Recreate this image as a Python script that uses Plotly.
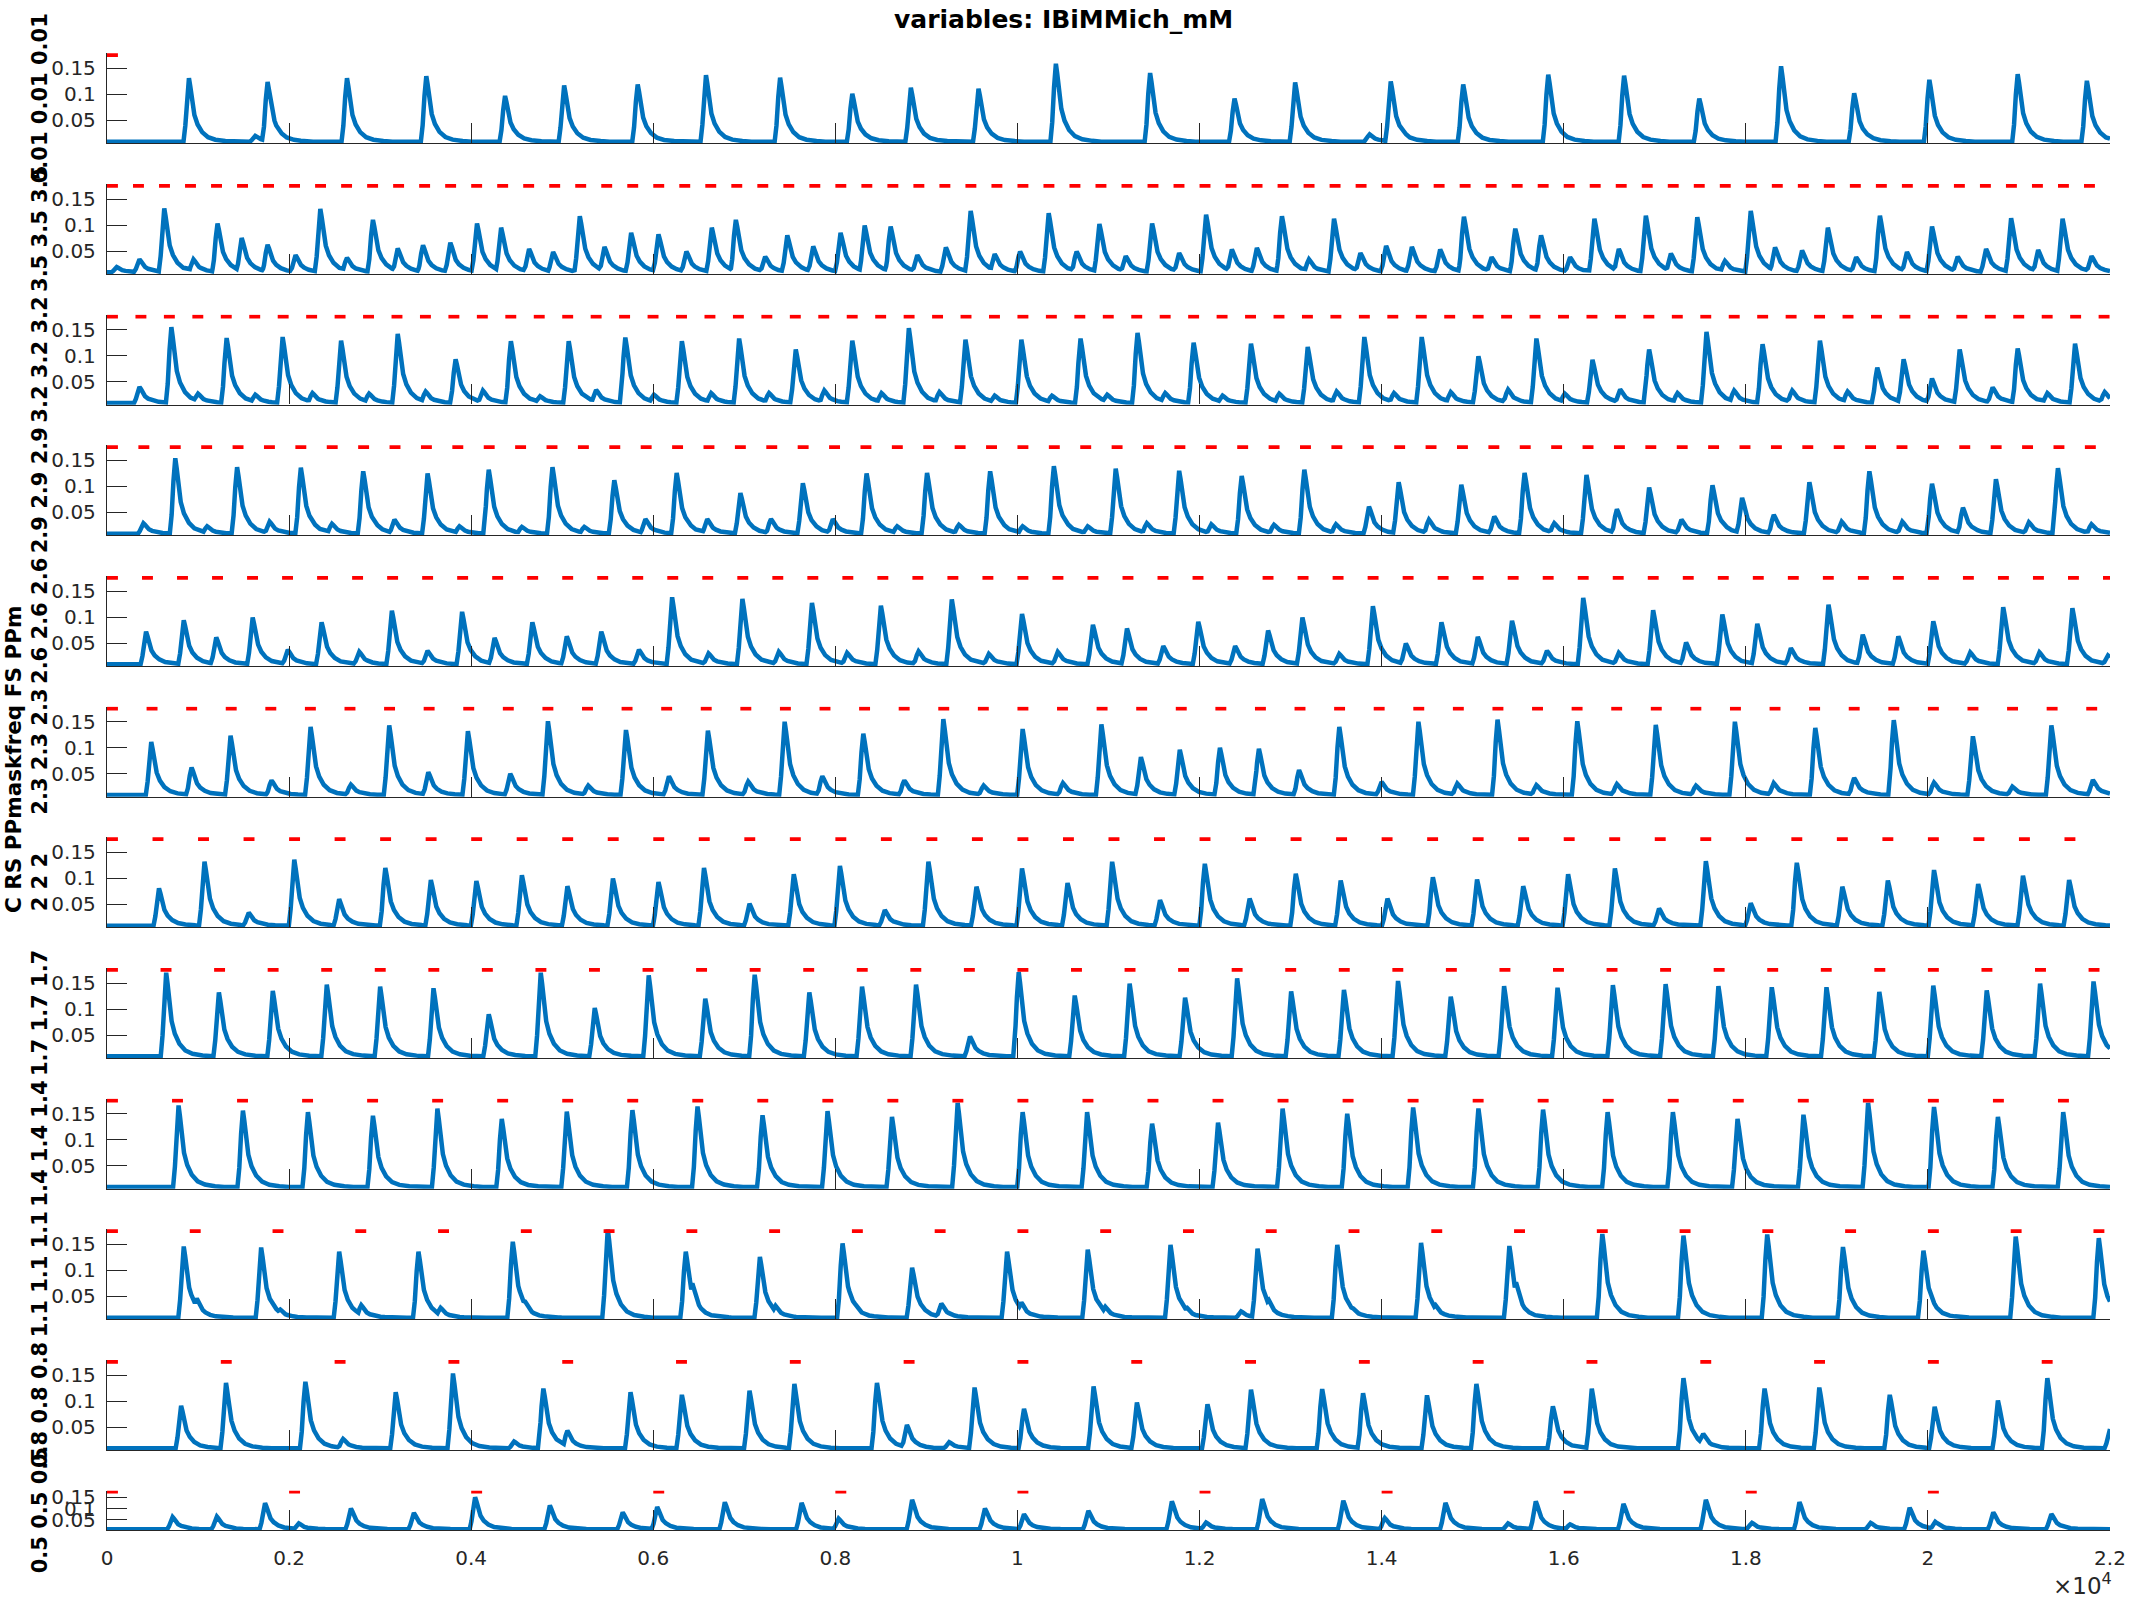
import numpy as np
import plotly.graph_objects as go

# ---------------- data ----------------
time_ticks = [0, 2000, 4000, 6000, 8000, 10000, 12000, 14000, 16000, 18000, 20000, 22000]
time_tick_labels = ["0", "0.2", "0.4", "0.6", "0.8", "1", "1.2", "1.4", "1.6", "1.8", "2", "2.2"]
y_ticks = [0.05, 0.1, 0.15]
y_tick_labels = ["0.05", "0.1", "0.15"]

mask_freqs = [0.01, 3.5, 3.2, 2.9, 2.6, 2.3, 2.0, 1.7, 1.4, 1.1, 0.8, 0.5]
panel_labels = ["0.01 0.01 0.01", "3.5 3.5 3.5", "3.2 3.2 3.2", "2.9 2.9 2.9",
                "2.6 2.6 2.6", "2.3 2.3 2.3", "2 2 2", "1.7 1.7 1.7",
                "1.4 1.4 1.4", "1.1 1.1 1.1", "0.8 0.8 0.8", "0.5 0.5 0.5"]
baseline_level = 0.009
mask_level = 0.1756

# peak times (ms) and peak values (mM) of the blue trace, one pair per panel
p1_t = [900, 1629, 1764, 2636, 3507, 4372, 5021, 5829, 6579, 7393, 8186, 8829, 9572, 10422,
        11457, 12384, 13050, 13868, 14100, 14896, 15830, 16663, 17489, 18387, 19190, 20016, 20986, 21746]
p1_h = [0.131, 0.02, 0.124, 0.131, 0.135, 0.097, 0.117, 0.119, 0.137, 0.132, 0.101, 0.113, 0.111, 0.159,
        0.141, 0.092, 0.123, 0.023, 0.125, 0.119, 0.138, 0.136, 0.092, 0.154, 0.102, 0.128, 0.139, 0.126]

p2_t = [107, 357, 629, 950, 1214, 1479, 1764, 2071, 2343, 2636,
        2921, 3193, 3471, 3771, 4064, 4329, 4636, 4900, 5193, 5464,
        5757, 6057, 6364, 6643, 6907, 7229, 7472, 7757, 8057, 8322,
        8607, 8900, 9214, 9486, 9750, 10029, 10343, 10650, 10900, 11189,
        11479, 11776, 12072, 12355, 12630, 12905, 13202, 13477, 13767, 14049,
        14332, 14643, 14904, 15208, 15468, 15751, 16070, 16337, 16605, 16902,
        17177, 17467, 17771, 18054, 18321, 18618, 18901, 19212, 19473, 19770,
        20045, 20327, 20639, 20914, 21211, 21479, 21797]
p2_h = [0.019, 0.034, 0.132, 0.034, 0.103, 0.075, 0.062, 0.042, 0.131, 0.037,
        0.110, 0.055, 0.061, 0.066, 0.103, 0.095, 0.054, 0.048, 0.117, 0.058,
        0.085, 0.082, 0.049, 0.095, 0.110, 0.039, 0.080, 0.059, 0.085, 0.099,
        0.097, 0.042, 0.057, 0.127, 0.044, 0.049, 0.123, 0.049, 0.102, 0.040,
        0.103, 0.046, 0.120, 0.053, 0.056, 0.117, 0.034, 0.112, 0.046, 0.060,
        0.058, 0.053, 0.116, 0.038, 0.093, 0.080, 0.038, 0.112, 0.054, 0.118,
        0.045, 0.115, 0.031, 0.127, 0.057, 0.051, 0.095, 0.038, 0.118, 0.048,
        0.097, 0.039, 0.054, 0.113, 0.052, 0.112, 0.040]

p3_t = [357, 707, 1000, 1314, 1629, 1929, 2257, 2571, 2879, 3193,
        3500, 3829, 4129, 4436, 4757, 5071, 5372, 5693, 6007, 6314,
        6636, 6943, 7272, 7565, 7879, 8186, 8507, 8807, 9143, 9429,
        9750, 10043, 10379, 10693, 10986, 11319, 11623, 11935, 12253, 12565,
        12876, 13188, 13506, 13810, 14136, 14440, 14759, 15063, 15389, 15700,
        16012, 16316, 16620, 16938, 17250, 17568, 17872, 18184, 18510, 18814,
        19118, 19444, 19733, 20045, 20349, 20711, 20986, 21312, 21616, 21942]
p3_h = [0.040, 0.155, 0.027, 0.134, 0.025, 0.136, 0.028, 0.129, 0.027, 0.142,
        0.031, 0.093, 0.033, 0.128, 0.022, 0.128, 0.034, 0.135, 0.025, 0.128,
        0.028, 0.133, 0.028, 0.112, 0.033, 0.129, 0.028, 0.153, 0.030, 0.131,
        0.023, 0.131, 0.023, 0.133, 0.025, 0.144, 0.028, 0.125, 0.023, 0.123,
        0.027, 0.117, 0.031, 0.136, 0.028, 0.136, 0.030, 0.099, 0.035, 0.133,
        0.027, 0.092, 0.035, 0.112, 0.028, 0.146, 0.033, 0.122, 0.033, 0.129,
        0.031, 0.077, 0.093, 0.056, 0.112, 0.039, 0.114, 0.028, 0.123, 0.030]

p4_t = [400, 750, 1100, 1429, 1786, 2129, 2471, 2814, 3157, 3521,
        3871, 4193, 4557, 4893, 5243, 5572, 5914, 6257, 6593, 6957,
        7293, 7643, 7972, 8343, 8679, 9007, 9357, 9700, 10057, 10400,
        10772, 11079, 11421, 11776, 12130, 12463, 12818, 13151, 13499, 13861,
        14187, 14520, 14875, 15237, 15570, 15896, 16250, 16584, 16938, 17293,
        17634, 17959, 18307, 18698, 19053, 19357, 19719, 20045, 20385, 20747,
        21109, 21428, 21797]
p4_h = [0.029, 0.154, 0.023, 0.137, 0.032, 0.136, 0.028, 0.129, 0.036, 0.125,
        0.023, 0.132, 0.022, 0.137, 0.022, 0.112, 0.037, 0.126, 0.037, 0.087,
        0.037, 0.106, 0.037, 0.125, 0.023, 0.126, 0.026, 0.129, 0.023, 0.139,
        0.023, 0.134, 0.029, 0.130, 0.027, 0.120, 0.026, 0.132, 0.027, 0.061,
        0.108, 0.036, 0.103, 0.042, 0.126, 0.029, 0.122, 0.056, 0.098, 0.036,
        0.102, 0.078, 0.045, 0.108, 0.032, 0.129, 0.032, 0.105, 0.059, 0.114,
        0.031, 0.135, 0.027]

p5_t = [429, 843, 1200, 1600, 1986, 2357, 2771, 3129, 3521, 3900,
        4257, 4672, 5050, 5429, 5843, 6207, 6607, 6979, 7379, 7743,
        8129, 8500, 8914, 9279, 9686, 10050, 10443, 10829, 11203, 11602,
        11986, 12391, 12753, 13130, 13535, 13904, 14266, 14657, 15056, 15432,
        15816, 16214, 16605, 16982, 17344, 17742, 18126, 18495, 18908, 19284,
        19675, 20059, 20465, 20827, 21225, 21587, 21978]
p5_h = [0.072, 0.094, 0.061, 0.099, 0.037, 0.090, 0.033, 0.112, 0.035, 0.110,
        0.060, 0.090, 0.063, 0.072, 0.037, 0.138, 0.030, 0.135, 0.033, 0.127,
        0.031, 0.122, 0.034, 0.134, 0.029, 0.106, 0.033, 0.085, 0.078, 0.044,
        0.091, 0.044, 0.074, 0.099, 0.029, 0.121, 0.049, 0.090, 0.062, 0.093,
        0.035, 0.137, 0.031, 0.113, 0.051, 0.105, 0.087, 0.040, 0.124, 0.066,
        0.063, 0.092, 0.032, 0.119, 0.032, 0.117, 0.026]

p6_t = [486, 929, 1357, 1807, 2236, 2679, 3100, 3529, 3964, 4429,
        4843, 5286, 5700, 6172, 6600, 7043, 7443, 7857, 8307, 8757,
        9186, 9629, 10057, 10500, 10922, 11356, 11783, 12224, 12652, 13093,
        13535, 13999, 14404, 14831, 15273, 15700, 16149, 16584, 17011, 17453,
        17880, 18307, 18763, 19190, 19625, 20067, 20494, 20928, 21356, 21812]
p6_h = [0.111, 0.062, 0.123, 0.037, 0.140, 0.029, 0.143, 0.053, 0.132, 0.050,
        0.151, 0.027, 0.134, 0.045, 0.133, 0.035, 0.150, 0.045, 0.127, 0.037,
        0.155, 0.027, 0.136, 0.032, 0.145, 0.082, 0.096, 0.100, 0.098, 0.057,
        0.140, 0.034, 0.150, 0.031, 0.154, 0.028, 0.151, 0.030, 0.144, 0.027,
        0.150, 0.032, 0.138, 0.042, 0.153, 0.033, 0.122, 0.025, 0.143, 0.038]

p7_t = [571, 1071, 1557, 2057, 2550, 3057, 3557, 4057, 4557, 5057,
        5557, 6057, 6557, 7057, 7543, 8050, 8543, 9022, 9550, 10050,
        10550, 11040, 11566, 12058, 12550, 13057, 13550, 14064, 14563, 15048,
        15555, 16048, 16562, 17047, 17561, 18054, 18560, 19060, 19560, 20067,
        20552, 21044, 21551]
p7_h = [0.081, 0.132, 0.034, 0.136, 0.060, 0.120, 0.097, 0.095, 0.106, 0.085,
        0.100, 0.093, 0.120, 0.051, 0.108, 0.124, 0.039, 0.132, 0.084, 0.119,
        0.091, 0.132, 0.058, 0.128, 0.061, 0.109, 0.096, 0.061, 0.102, 0.098,
        0.085, 0.108, 0.119, 0.042, 0.133, 0.052, 0.130, 0.084, 0.096, 0.116,
        0.089, 0.105, 0.097]

p8_t = [650, 1229, 1821, 2414, 3000, 3586, 4193, 4764, 5357, 5950,
        6571, 7114, 7714, 8293, 8886, 9479, 10014, 10629, 11232, 11841,
        12413, 13006, 13586, 14180, 14759, 15345, 15932, 16540, 17119, 17699,
        18285, 18886, 19466, 20059, 20646, 21232, 21819]
p8_h = [0.170, 0.132, 0.135, 0.147, 0.143, 0.140, 0.090, 0.170, 0.102, 0.165,
        0.120, 0.166, 0.132, 0.143, 0.147, 0.047, 0.171, 0.126, 0.149, 0.122,
        0.159, 0.134, 0.137, 0.154, 0.124, 0.144, 0.141, 0.146, 0.148, 0.144,
        0.142, 0.142, 0.133, 0.145, 0.136, 0.149, 0.153]

p9_t = [786, 1493, 2207, 2921, 3629, 4336, 5050, 5771, 6486, 7200,
        7914, 8622, 9343, 10057, 10765, 11479, 12203, 12912, 13622, 14346,
        15063, 15773, 16482, 17199, 17909, 18633, 19343, 20067, 20769, 21486]
p9_h = [0.166, 0.156, 0.153, 0.146, 0.160, 0.140, 0.154, 0.157, 0.164, 0.147,
        0.155, 0.144, 0.171, 0.153, 0.153, 0.131, 0.133, 0.160, 0.150, 0.162,
        0.160, 0.158, 0.153, 0.153, 0.140, 0.148, 0.171, 0.163, 0.144, 0.153]

p10_t = [843, 986, 1693, 1900, 2550, 2793, 3421, 3664, 4457, 4593,
         5500, 6357, 6429, 7171, 7343, 8079, 8214, 8843, 9164, 9886,
         10043, 10772, 10965, 11681, 11862, 12456, 12637, 12760, 13513, 13687,
         14433, 14592, 15403, 15476, 16424, 17315, 18235, 19067, 19951, 20009,
         20964, 21877]
p10_h = [0.146, 0.046, 0.144, 0.025, 0.136, 0.033, 0.136, 0.028, 0.155, 0.040,
         0.180, 0.136, 0.075, 0.126, 0.032, 0.152, 0.036, 0.105, 0.036, 0.136,
         0.038, 0.140, 0.030, 0.149, 0.028, 0.021, 0.142, 0.043, 0.149, 0.027,
         0.153, 0.033, 0.147, 0.077, 0.170, 0.167, 0.169, 0.145, 0.138, 0.066,
         0.165, 0.162]

p11_t = [814, 1307, 2179, 2593, 3171, 3800, 4471, 4793, 5057, 5750,
         6314, 7057, 7550, 8457, 8786, 9250, 9529, 10072, 10836, 11312,
         12087, 12565, 13347, 13796, 14498, 15041, 15881, 16308, 17315, 17532,
         18206, 18807, 19581, 20074, 20769, 21312, 22000]
p11_h = [0.091, 0.135, 0.137, 0.027, 0.117, 0.153, 0.022, 0.124, 0.043, 0.117,
         0.112, 0.120, 0.133, 0.135, 0.054, 0.021, 0.126, 0.085, 0.128, 0.097,
         0.094, 0.122, 0.123, 0.115, 0.111, 0.133, 0.090, 0.124, 0.144, 0.037,
         0.124, 0.126, 0.112, 0.089, 0.101, 0.144, 0.046]

p12_t = [721, 1207, 1736, 2107, 2679, 3371, 4043, 4864, 5664, 6043,
         6786, 7629, 8036, 8843, 9643, 10072, 10779, 11696, 12072, 12688,
         13579, 14035, 14701, 15389, 15693, 16070, 16656, 17561, 18068, 18589,
         19371, 19799, 20081, 20718, 21356]
p12_h = [0.0625, 0.065, 0.124, 0.035, 0.101, 0.081, 0.150, 0.114, 0.083, 0.107,
         0.128, 0.125, 0.056, 0.139, 0.101, 0.075, 0.090, 0.132, 0.039, 0.142,
         0.135, 0.058, 0.125, 0.035, 0.132, 0.031, 0.121, 0.139, 0.037, 0.129,
         0.037, 0.104, 0.042, 0.083, 0.076]

peak_times = [p1_t, p2_t, p3_t, p4_t, p5_t, p6_t, p7_t, p8_t, p9_t, p10_t, p11_t, p12_t]
peak_values = [p1_h, p2_h, p3_h, p4_h, p5_h, p6_h, p7_h, p8_h, p9_h, p10_h, p11_h, p12_h]

# ---------------- styling / layout ----------------
W, H = 2133, 1600
X0_PX, X1_PX = 107, 2110
BOTTOMS = [143.3 + 130.67 * i for i in range(11)] + [1530.0]
TOPS = [b - 90.0 for b in BOTTOMS[:11]] + [1490.7]
Y_RANGE = [0.0058, 0.179]
T_END = 22000
PULSE_MS = 120

# spike glyph (relative time in ms, relative amplitude)
GLYPH_DT = [-60, -40, -20, 0, 15, 35, 60, 95, 145, 210, 290, 400, 500]
GLYPH_A = [0.0, 0.25, 0.7, 1.0, 0.87, 0.6, 0.42, 0.27, 0.15, 0.07, 0.03, 0.01, 0.0]

BLUE = "#0072BD"
RED = "#FF0000"
AX = "#262626"
FONT = "DejaVu Sans"


def trace_from_peaks(times, values):
    times = np.asarray(times, float)
    amps = np.asarray(values, float) - baseline_level
    dts = np.asarray(GLYPH_DT, float)
    knots = np.unique(np.concatenate([[0.0, T_END], (times[:, None] + dts[None, :]).ravel()]))
    knots = knots[(knots >= 0) & (knots <= T_END)]
    y = np.zeros_like(knots)
    for tt, aa in zip(times, amps):
        y = np.maximum(y, aa * np.interp(knots - tt, dts, GLYPH_A, left=0.0, right=0.0))
    return knots, y + baseline_level


fig = go.Figure()
n = len(peak_times)
for i in range(n):
    xs, ys = trace_from_peaks(peak_times[i], peak_values[i])
    ax_id = "" if i == 0 else str(i + 1)
    fig.add_trace(go.Scatter(x=xs, y=ys, mode="lines",
                             line=dict(color=BLUE, width=4.5),
                             xaxis="x" + ax_id, yaxis="y" + ax_id,
                             showlegend=False, hoverinfo="skip"))
    period = 1000.0 / mask_freqs[i]
    onsets = np.arange(0.0, T_END, period)
    mx, my = [], []
    for o in onsets:
        mx += [o, min(o + PULSE_MS, T_END), None]
        my += [mask_level, mask_level, None]
    fig.add_trace(go.Scatter(x=mx, y=my, mode="lines",
                             line=dict(color=RED, width=4),
                             xaxis="x" + ax_id, yaxis="y" + ax_id,
                             showlegend=False, hoverinfo="skip"))

layout = dict(width=W, height=H,
              margin=dict(l=0, r=0, t=0, b=0, pad=0, autoexpand=False),
              paper_bgcolor="white", plot_bgcolor="white",
              font=dict(family=FONT, size=20, color=AX))
for i in range(n):
    ax_id = "" if i == 0 else str(i + 1)
    last = (i == n - 1)
    layout["xaxis" + ax_id] = dict(
        domain=[X0_PX / W, X1_PX / W], range=[0, T_END], anchor="y" + ax_id,
        automargin=False,
        showline=True, linecolor=AX, linewidth=1.3, mirror=False,
        showgrid=False, zeroline=False,
        ticks="inside", ticklen=20, tickwidth=1, tickcolor=AX,
        tickvals=time_ticks, ticktext=time_tick_labels,
        showticklabels=last, tickfont=dict(size=20, color=AX, family=FONT),
        ticklabelstandoff=10)
    layout["yaxis" + ax_id] = dict(
        domain=[1 - BOTTOMS[i] / H, 1 - TOPS[i] / H], range=Y_RANGE, anchor="x" + ax_id,
        automargin=False,
        showline=True, linecolor=AX, linewidth=1.3, mirror=False,
        showgrid=False, zeroline=False,
        ticks="inside", ticklen=20, tickwidth=1, tickcolor=AX,
        tickvals=y_ticks, ticktext=y_tick_labels,
        tickfont=dict(size=20, color=AX, family=FONT), ticklabelstandoff=6)
fig.update_layout(**layout)

ann = []
ann.append(dict(text="<b>variables: IBiMMich_mM</b>", x=1063 / W, y=1 - 20 / H,
                xref="paper", yref="paper", showarrow=False, xanchor="center", yanchor="middle",
                font=dict(size=25, color="black", family=FONT)))
ann.append(dict(text="×10<sup>4</sup>", x=2082 / W, y=1 - 1584 / H,
                xref="paper", yref="paper", showarrow=False, xanchor="center", yanchor="middle",
                font=dict(size=23, color=AX, family=FONT)))
ann.append(dict(text="<b>C RS PPmaskfreq FS PPm</b>", x=13 / W, y=1 - 760 / H,
                xref="paper", yref="paper", showarrow=False, textangle=-90,
                xanchor="center", yanchor="middle",
                font=dict(size=21.5, color="black", family=FONT)))
for i in range(n):
    yc = (BOTTOMS[i] + TOPS[i]) / 2
    ann.append(dict(text="<b>" + panel_labels[i] + "</b>", x=40 / W, y=1 - yc / H,
                    xref="paper", yref="paper", showarrow=False, textangle=-90,
                    xanchor="center", yanchor="middle",
                    font=dict(size=21, color="black", family=FONT)))
fig.update_layout(annotations=ann)

fig.write_html("out.html")
